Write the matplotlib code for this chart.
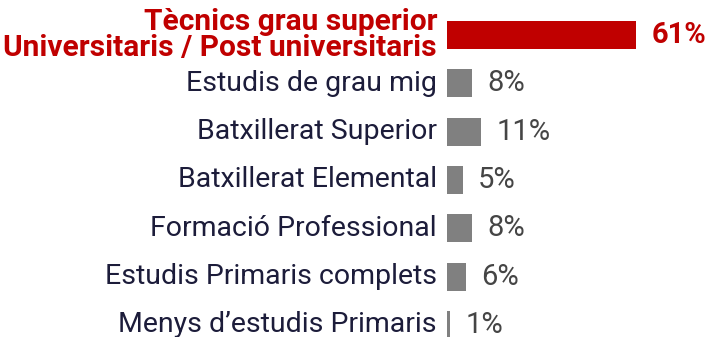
import matplotlib
matplotlib.use("Agg")
import matplotlib.pyplot as plt
import matplotlib.transforms as mtransforms

categories = [
    "Tècnics grau superior\nUniversitaris / Post universitaris",
    "Estudis de grau mig",
    "Batxillerat Superior",
    "Batxillerat Elemental",
    "Formació Professional",
    "Estudis Primaris complets",
    "Menys d\u2019estudis Primaris",
]
values = [61, 8, 11, 5, 8, 6, 1]
value_labels = ["61%", "8%", "11%", "5%", "8%", "6%", "1%"]

RED = "#c00000"
GREY = "#808080"
NAVY = "#1c1c3a"
VAL_GREY = "#454545"

plt.rcParams["font.family"] = ["Roboto", "DejaVu Sans"]

fig = plt.figure(figsize=(7.14, 3.37), dpi=100)
ax = fig.add_axes([447 / 714, 0, 267 / 714, 1])

colors = [RED] + [GREY] * (len(values) - 1)
y = list(range(len(values)))
bars = ax.barh(y, values, height=0.58, color=colors)

ax.set_xlim(0, 86)
ax.set_ylim(6.25, -0.725)
for s in ax.spines.values():
    s.set_visible(False)
ax.set_xticks([])
ax.set_yticks([])

# category labels, right-aligned just left of the bars
lab_tr = mtransforms.blended_transform_factory(ax.transAxes, ax.transData)
lab_off = mtransforms.ScaledTranslation(-10 / 100, 0, fig.dpi_scale_trans)
for i, cat in enumerate(categories):
    if i == 0:
        ax.text(0, i, cat, transform=lab_tr + lab_off, ha="right", va="center",
                fontsize=21.5, fontweight="bold", color=RED, linespacing=0.88)
    else:
        ax.text(0, i, cat, transform=lab_tr + lab_off, ha="right", va="center",
                fontsize=20.5, color=NAVY)

texts = ax.bar_label(bars, labels=value_labels, padding=11, fontsize=21,
                     color=VAL_GREY)
texts[0].set_color(RED)
texts[0].set_fontweight("bold")

fig.savefig("out.png", dpi=100)
